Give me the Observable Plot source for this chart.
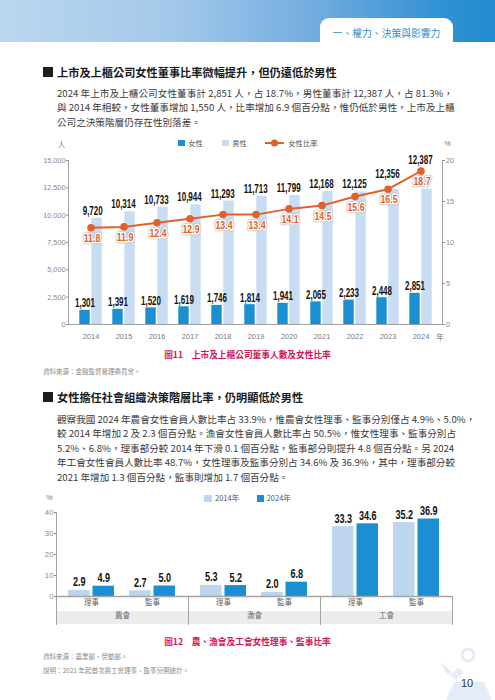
<!DOCTYPE html>
<html lang="zh-Hant-TW">
<head>
<meta charset="utf-8">
<script src="https://cdn.jsdelivr.net/npm/d3@7"></script>
<script src="https://cdn.jsdelivr.net/npm/@observablehq/plot@0.6"></script>
<style>
html,body{margin:0;padding:0;background:#fff;}
#page{position:relative;width:495px;height:700px;overflow:hidden;font-family:"Noto Sans CJK TC","Noto Sans",sans-serif;color:#333;}
.t{position:absolute;white-space:nowrap;height:20px;line-height:20px;}
.para{position:absolute;left:57px;width:396px;font-size:9.6px;line-height:14.5px;color:#3a3a3a;}
.para div{text-align:justify;text-align-last:justify;white-space:nowrap;}
.para div.last{text-align-last:left;}
.sq{position:absolute;width:10px;height:10px;background:#1e1e1e;}
.h{font-size:11.2px;font-weight:700;color:#1a1a1a;}
.lg{font-size:7.3px;color:#555;}
.sw{position:absolute;}
.cap{left:0;width:495px;text-align:center;font-size:8.7px;font-weight:700;color:#d4145a;}
.src{left:43px;font-size:6.5px;color:#8a8a8a;}
.chart{position:absolute;left:0;}
.chart svg{overflow:visible;}
</style>
</head>
<body>
<div id="page">
  <div style="position:absolute;left:0;top:0;width:495px;height:42px;background:linear-gradient(90deg,#bcd7ef 0%,#a3c8ea 35%,#6fabdf 65%,#2f91d3 90%,#228bd0 100%);"></div>
  <div style="position:absolute;left:320px;top:18px;width:133px;height:24px;background:#fff;border-radius:9px 9px 0 0;"></div>
  <div class="t" style="left:320px;width:133px;top:23px;text-align:center;font-size:9.8px;color:#2b8fd1;">一、權力、決策與影響力</div>

  <div class="sq" style="left:43px;top:67px;"></div>
  <div class="t h" style="left:57px;top:62px;">上市及上櫃公司女性董事比率微幅提升，但仍遠低於男性</div>
  <div class="para" style="top:85.75px;">
    <div>2024 年上市及上櫃公司女性董事計 2,851 人，占 18.7%，男性董事計 12,387 人，占 81.3%，</div>
    <div>與 2014 年相較，女性董事增加 1,550 人，比率增加 6.9 個百分點，惟仍低於男性，上市及上櫃</div>
    <div class="last">公司之決策階層仍存在性別落差。</div>
  </div>

  <div class="sw" style="left:178.3px;top:139.6px;width:6.8px;height:6.8px;background:#1b8fd2;"></div>
  <div class="t lg" style="left:188.3px;top:133px;">女性</div>
  <div class="sw" style="left:222.3px;top:139.6px;width:6.8px;height:6.8px;background:#c8ddf1;"></div>
  <div class="t lg" style="left:232.3px;top:133px;">男性</div>
  <svg style="position:absolute;left:265px;top:139px;" width="19" height="8"><line x1="0" y1="4" x2="19" y2="4" stroke="#e2612b" stroke-width="2"/><circle cx="9.5" cy="4" r="3.6" fill="#e2612b"/></svg>
  <div class="t lg" style="left:288.3px;top:133px;">女性比率</div>
  <div class="t" style="left:56.5px;width:10px;text-align:center;top:135px;font-size:7.5px;color:#777;">人</div>
  <div class="t" style="left:442.5px;width:10px;text-align:center;top:134px;font-size:7.5px;color:#777;font-family:'Liberation Sans';">%</div>
  <div class="t" style="left:435px;width:10px;text-align:center;top:327px;font-size:7.5px;color:#777;">年</div>

  <div id="chart1" class="chart" style="top:150px;"></div>

  <div class="t cap" style="top:345px;">圖11　上市及上櫃公司董事人數及女性比率</div>
  <div class="t src" style="top:361px;">資料來源：金融監督管理委員會。</div>

  <div class="sq" style="left:43px;top:392px;"></div>
  <div class="t h" style="left:57px;top:387px;">女性擔任社會組織決策階層比率，仍明顯低於男性</div>
  <div class="para" style="top:411.75px;">
    <div>觀察我國 2024 年農會女性會員人數比率占 33.9%，惟農會女性理事、監事分別僅占 4.9%、5.0%，</div>
    <div>較 2014 年增加 2 及 2.3 個百分點。漁會女性會員人數比率占 50.5%，惟女性理事、監事分別占</div>
    <div>5.2%、6.8%，理事部分較 2014 年下滑 0.1 個百分點，監事部分則提升 4.8 個百分點。另 2024</div>
    <div>年工會女性會員人數比率 48.7%，女性理事及監事分別占 34.6% 及 36.9%，其中，理事部分較</div>
    <div class="last">2021 年增加 1.3 個百分點，監事則增加 1.7 個百分點。</div>
  </div>

  <div class="t" style="left:44.4px;width:10px;text-align:center;top:487.7px;font-size:7.5px;color:#777;font-family:'Liberation Sans';">%</div>
  <div class="sw" style="left:204px;top:494.5px;width:7.5px;height:7.5px;background:#bcd6ee;"></div>
  <div class="t lg" style="left:215px;top:488px;font-size:7.5px;">2014年</div>
  <div class="sw" style="left:256.7px;top:494.5px;width:7.5px;height:7.5px;background:#1b8fd2;"></div>
  <div class="t lg" style="left:266.7px;top:488px;font-size:7.5px;">2024年</div>

  <div id="chart2" class="chart" style="top:505px;"></div>

  <div class="t cap" style="top:632px;">圖12　農、漁會及工會女性理事、監事比率</div>
  <div class="t src" style="top:646px;">資料來源：農業部、勞動部。</div>
  <div class="t src" style="top:660px;">說明：2021 年起首次將工會理事、監事分開統計。</div>

  <svg style="position:absolute;left:436px;top:646px;" width="59" height="54">
    <circle cx="32" cy="9" r="6" fill="none" stroke="#e4edf7" stroke-width="3"/>
    <path d="M4 16 L16 26 L12 30 Z" fill="#e4edf7"/>
    <path d="M14 30 L22 22 L28 26 L20 34 Z" fill="#e4edf7"/>
    <path d="M10 54 L18 36 L48 36 L56 54 Z" fill="#e4edf7"/>
  </svg>
  <div class="t" style="left:461px;top:673px;font-size:11px;color:#333;font-family:'Liberation Sans';">10</div>
</div>

<script>
// ---------- Figure 11 data ----------
const years = ["2014","2015","2016","2017","2018","2019","2020","2021","2022","2023","2024"];
const femaleDirectors = [1301, 1391, 1520, 1619, 1746, 1814, 1941, 2065, 2233, 2448, 2851];
const maleDirectors   = [9720, 10314, 10733, 10944, 11293, 11713, 11799, 12168, 12125, 12356, 12387];
const femaleRatio     = [11.8, 11.9, 12.4, 12.9, 13.4, 13.4, 14.1, 14.5, 15.6, 16.5, 18.7];
const peopleTicks = [0, 2500, 5000, 7500, 10000, 12500, 15000];
const pctTicks = [0, 5, 10, 15, 20];

// ---------- Figure 12 data ----------
const orgGroups = ["農會", "漁會", "工會"];
const roles = ["理事", "監事"];
const share2014 = [2.9, 2.7, 5.3, 2.0, 33.3, 35.2];
const share2024 = [4.9, 5.0, 5.2, 6.8, 34.6, 36.9];
const shareTicks = [0, 10, 20, 30, 40];

// ---------- Figure 11 ----------
const PCT = 15000 / 20; // right axis (0–20 %) shares the left axis (0–15,000 人)
const rows1 = years.map((y, i) => ({year: y, female: femaleDirectors[i], male: maleDirectors[i], ratio: femaleRatio[i]}));
const lbl = {fontFamily: "Liberation Sans", fontWeight: "bold"};
const axisGray = "#a3a3a3";

const chart1 = Plot.plot({
  width: 495, height: 200,
  marginTop: 10, marginBottom: 26, marginLeft: 68, marginRight: 53,
  style: {fontFamily: "Liberation Sans", background: "transparent", overflow: "visible"},
  x: {type: "band", domain: years, padding: 0, insetLeft: 2.7, insetRight: 1.7},
  y: {domain: [0, 15000]},
  marks: [
    Plot.barY(rows1, {x: "year", y: "male", fill: "#c8ddf1", insetLeft: 17.3, insetRight: 5.3}),
    Plot.barY(rows1, {x: "year", y: "female", fill: "#1b8fd2", insetLeft: 5.3, insetRight: 17.3}),
    Plot.frame({anchor: "left", stroke: axisGray}),
    Plot.frame({anchor: "right", stroke: axisGray}),
    Plot.frame({anchor: "bottom", stroke: axisGray}),
    Plot.axisY({ticks: peopleTicks, tickSize: 2, tickPadding: 1, tickFormat: d3.format(","), fontSize: 7.3, color: "#8a8a8a", label: null}),
    Plot.axisY({anchor: "right", ticks: pctTicks.map(v => v * PCT), tickFormat: d => d / PCT, tickSize: 2, tickPadding: 1.5, fontSize: 7.3, color: "#8a8a8a", label: null}),
    Plot.axisX({tickSize: 0, tickPadding: 9, fontSize: 7.5, color: "#7a7a7a", label: null}),
    Plot.line(rows1, {x: "year", y: d => d.ratio * PCT, stroke: "#e2612b", strokeWidth: 2}),
    Plot.dot(rows1, {x: "year", y: d => d.ratio * PCT, r: 3.8, fill: "#e2612b"}),
    // female counts
    Plot.text(rows1, {x: "year", y: "female", text: d => d3.format(",")(d.female), dx: -6, dy: -3, lineAnchor: "bottom", fontSize: 12.5, fill: "#111", ...lbl}),
    // male counts (right-aligned on the male bar)
    Plot.text(rows1.filter(d => +d.year < 2023), {x: "year", y: "male", text: d => d3.format(",")(d.male), dx: 11.7, dy: -3.5, textAnchor: "end", lineAnchor: "bottom", fontSize: 12.5, fill: "#111", ...lbl}),
    Plot.text(rows1.filter(d => d.year === "2023"), {x: "year", y: "male", text: d => d3.format(",")(d.male), dx: 11.7, dy: -11, textAnchor: "end", lineAnchor: "bottom", fontSize: 12.5, fill: "#111", ...lbl}),
    Plot.text(rows1.filter(d => d.year === "2024"), {x: "year", y: "male", text: d => d3.format(",")(d.male), dx: 11.7, dy: -25, textAnchor: "end", lineAnchor: "bottom", fontSize: 12.5, fill: "#111", ...lbl}),
    // ratio labels
    Plot.text(rows1, {x: "year", y: d => d.ratio * PCT, text: d => d3.format(".1f")(d.ratio), dx: 1, dy: 10.5, fontSize: 11, fill: "none", stroke: "#b9b9b9", strokeWidth: 4.5, ...lbl}),
    Plot.text(rows1, {x: "year", y: d => d.ratio * PCT, text: d => d3.format(".1f")(d.ratio), dx: 1, dy: 10.5, fontSize: 11, fill: "#e2612b", stroke: "#fff", strokeWidth: 3, ...lbl})
  ]
});
document.getElementById("chart1").appendChild(chart1);

// ---------- Figure 12 ----------
const rows2 = orgGroups.flatMap((g, gi) => roles.map((r, ri) => ({group: g, role: r, a: share2014[gi * 2 + ri], b: share2024[gi * 2 + ri]})));

const chart2 = Plot.plot({
  width: 495, height: 125,
  marginTop: 7, marginBottom: 6, marginLeft: 56, marginRight: 43,
  style: {fontFamily: "Liberation Sans", background: "transparent", overflow: "visible"},
  fx: {domain: orgGroups, padding: 0, axis: null},
  x: {domain: roles, padding: 0.143, axis: null},
  y: {domain: [0, 40], range: [91, 7], axis: null},
  marks: [
    Plot.frame({fill: "#ececec", stroke: null, insetTop: 98.7, insetBottom: 0.5}),
    Plot.frame({anchor: "left", insetTop: 84, stroke: axisGray}),
    Plot.frame({anchor: "right", insetTop: 84, stroke: axisGray}),
    Plot.frame({anchor: "left", stroke: axisGray, facet: "super"}),
    Plot.axisY({ticks: shareTicks, tickSize: 2, tickPadding: 1, fontSize: 7.8, color: "#8a8a8a", label: null}),
    Plot.barY(rows2, {fx: "group", x: "role", y: "a", fill: "#bcd6ee", insetLeft: 3, insetRight: 27.5}),
    Plot.barY(rows2, {fx: "group", x: "role", y: "b", fill: "#1b8fd2", insetLeft: 27.5, insetRight: 3}),
    Plot.ruleY([0], {stroke: axisGray, strokeWidth: 1.5}),
    Plot.text(rows2, {fx: "group", x: "role", y: "a", text: d => d3.format(".1f")(d.a), dx: -12.25, dy: -4, lineAnchor: "bottom", fontSize: 13, fill: "#111", ...lbl}),
    Plot.text(rows2, {fx: "group", x: "role", y: "b", text: d => d3.format(".1f")(d.b), dx: 12.25, dy: -4, lineAnchor: "bottom", fontSize: 13, fill: "#111", ...lbl}),
    Plot.text(rows2, {fx: "group", x: "role", text: "role", frameAnchor: "bottom", dy: -20, fontSize: 7.5, fill: "#666", fontFamily: "Noto Sans CJK TC"}),
    Plot.text(orgGroups, {fx: d => d, text: d => d, frameAnchor: "bottom", dy: -6.5, fontSize: 7.5, fill: "#666", fontFamily: "Noto Sans CJK TC"})
  ]
});
document.getElementById("chart2").appendChild(chart2);

// condensed bold numerals (narrow display face in the original): squeeze horizontally about each label's anchor
function condense(svg, size, ratio) {
  svg.querySelectorAll(`g[font-weight="bold"][font-size="${size}"] text`).forEach(t => {
    const tr = t.getAttribute("transform");
    if (tr) {
      t.setAttribute("transform", `${tr} scale(${ratio},1)`);
    } else {
      const x = +t.getAttribute("x") || 0, y = +t.getAttribute("y") || 0;
      t.setAttribute("x", 0); t.setAttribute("y", 0);
      t.setAttribute("transform", `translate(${x},${y}) scale(${ratio},1)`);
    }
  });
}
condense(chart1, 12.5, 0.64);
condense(chart1, 11, 0.8);
condense(chart2, 13, 0.7);
</script>
</body>
</html>
